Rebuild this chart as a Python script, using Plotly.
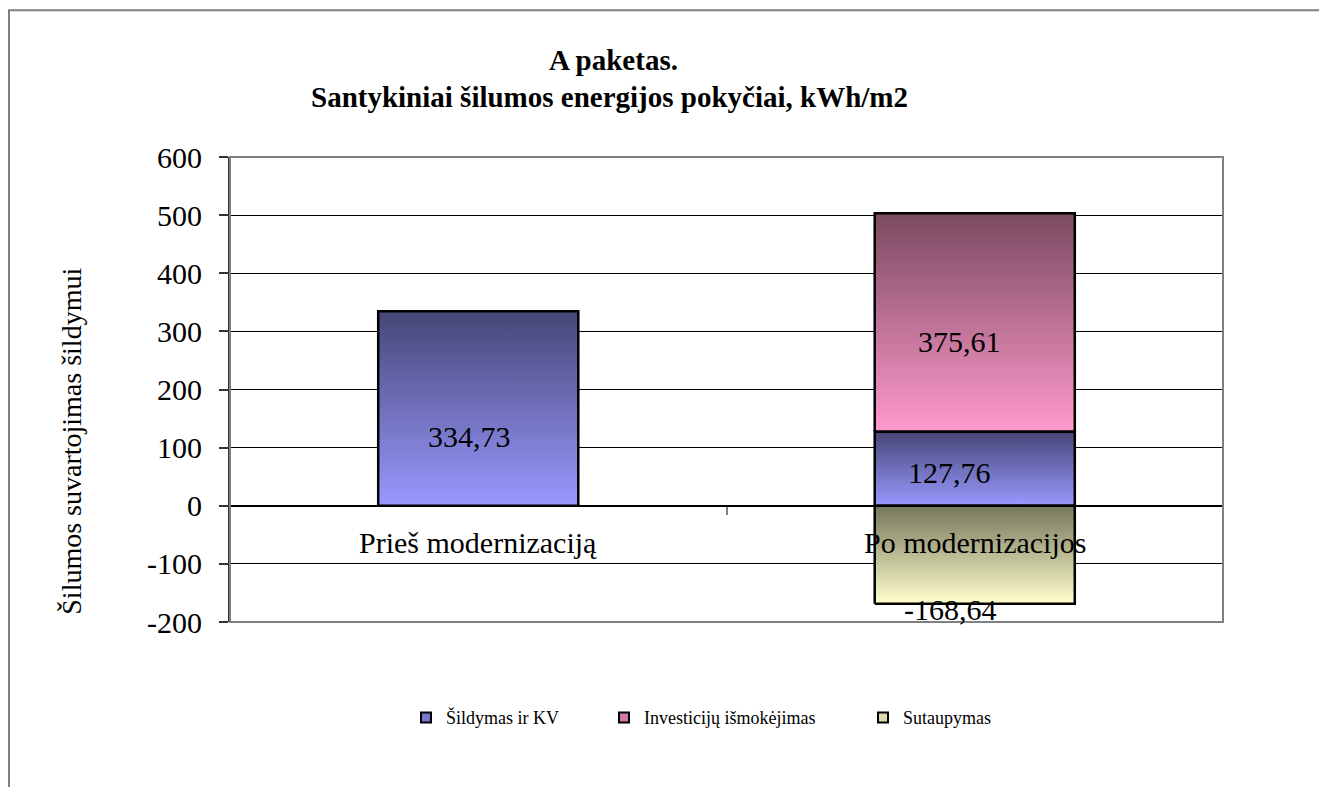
import plotly.graph_objects as go

# ---- data ----
categories = ["Prieš modernizaciją", "Po modernizacijos"]
series_names = ["Šildymas ir KV", "Investicijų išmokėjimas", "Sutaupymas"]
sildymas = [334.73, 127.76]
investicijos = [0.0, 375.61]
sutaupymas = [0.0, -168.64]
label_texts_sildymas = ["334,73", "127,76"]
label_texts_invest = ["", "375,61"]
label_texts_sutaup = ["", "-168,64"]
y_tick_values = [-200, -100, 0, 100, 200, 300, 400, 500, 600]
y_tick_labels = ["-200", "-100", "0", "100", "200", "300", "400", "500", "600"]

# ---- style ----
FONT = "Liberation Serif"
BAR_HALF = 0.2015
grad = {
    "Šildymas ir KV": ("#9999ff", "#464677"),
    "Investicijų išmokėjimas": ("#ff99cc", "#7a4a60"),
    "Sutaupymas": ("#ffffcc", "#76765c"),
}
legend_colors = {
    "Šildymas ir KV": "#7878d0",
    "Investicijų išmokėjimas": "#d277a6",
    "Sutaupymas": "#dcdcb0",
}
# label pixel nudges (xshift, yshift)
nudge_sild = [(-9, -28), (-25, -4)]
nudge_inv = [(0, 0), (-15, -19)]
nudge_sut = [(0, 0), (-24, -55)]

fig = go.Figure()


def rect(xc, y0, y1, name):
    xs = [xc - BAR_HALF, xc + BAR_HALF, xc + BAR_HALF, xc - BAR_HALF, xc - BAR_HALF]
    lo, hi = min(y0, y1), max(y0, y1)
    ys = [lo, lo, hi, hi, lo]
    light, dark = grad[name]
    fig.add_trace(go.Scatter(
        x=xs, y=ys, mode="lines", fill="toself",
        line=dict(color="black", width=2.5),
        fillgradient=dict(type="vertical", colorscale=[[0, light], [1, dark]]),
        showlegend=False, hoverinfo="skip", name=name,
    ))


annotations = []
for i, cat in enumerate(categories):
    if sildymas[i] != 0:
        rect(i, 0, sildymas[i], series_names[0])
        annotations.append(dict(x=i, y=sildymas[i] / 2, text=label_texts_sildymas[i],
                                xshift=nudge_sild[i][0], yshift=nudge_sild[i][1]))
    if investicijos[i] != 0:
        rect(i, sildymas[i], sildymas[i] + investicijos[i], series_names[1])
        annotations.append(dict(x=i, y=sildymas[i] + investicijos[i] / 2, text=label_texts_invest[i],
                                xshift=nudge_inv[i][0], yshift=nudge_inv[i][1]))
    if sutaupymas[i] != 0:
        rect(i, 0, sutaupymas[i], series_names[2])
        annotations.append(dict(x=i, y=sutaupymas[i] / 2, text=label_texts_sutaup[i],
                                xshift=nudge_sut[i][0], yshift=nudge_sut[i][1]))

for a in annotations:
    a.update(xref="x", yref="y", showarrow=False, font=dict(family=FONT, size=30, color="black"))

# category labels at the zero line
for i, cat in enumerate(categories):
    annotations.append(dict(x=i, y=0, xref="x", yref="y", text=cat, showarrow=False,
                            yshift=-37, font=dict(family=FONT, size=30, color="black")))

# legend-only traces, each in its own legend
legend_ids = ["legend", "legend2", "legend3"]
for name, lg in zip(series_names, legend_ids):
    fig.add_trace(go.Scatter(
        x=[None], y=[None], mode="markers", name=name, legend=lg,
        marker=dict(symbol="square", size=10, color=legend_colors[name],
                    line=dict(color="black", width=2)),
    ))

# titles
annotations += [
    dict(xref="paper", yref="paper", x=(613 - 230) / 993, y=(622.3 - 60) / 465,
         xanchor="center", yanchor="middle", text="<b>A paketas.</b>", showarrow=False,
         font=dict(family=FONT, size=29, color="black")),
    dict(xref="paper", yref="paper", x=(609 - 230) / 993, y=(622.3 - 97) / 465,
         xanchor="center", yanchor="middle",
         text="<b>Santykiniai šilumos energijos pokyčiai, kWh/m2</b>", showarrow=False,
         font=dict(family=FONT, size=29, color="black")),
    dict(xref="paper", yref="paper", x=(72 - 230) / 993, y=(622.3 - 442) / 465,
         xanchor="center", yanchor="middle", text="Šilumos suvartojimas šildymui",
         textangle=-90, showarrow=False, font=dict(family=FONT, size=28, color="black")),
]

shapes = [
    # plot area border
    dict(type="rect", xref="paper", yref="paper", x0=0, y0=0, x1=1, y1=1,
         line=dict(color="#808080", width=2), layer="above"),
    # outer chart border
    dict(type="rect", xref="paper", yref="paper",
         x0=(9 - 230) / 993, x1=(1322.5 - 230) / 993,
         y0=(622.3 - 830) / 465, y1=(622.3 - 10.5) / 465,
         line=dict(color="#7f7f7f", width=2), layer="below"),
]

leg_common = dict(orientation="h", yanchor="middle", xanchor="left", y=(622.3 - 718) / 465,
                  font=dict(family=FONT, size=18, color="black"), bgcolor="rgba(0,0,0,0)")

fig.update_layout(
    width=1319, height=779,
    margin=dict(l=222, r=104, t=149, b=165),
    paper_bgcolor="white", plot_bgcolor="white",
    font=dict(family=FONT, color="black"),
    showlegend=True,
    legend=dict(x=(406 - 230) / 993, **leg_common),
    legend2=dict(x=(604 - 230) / 993, **leg_common),
    legend3=dict(x=(863 - 230) / 993, **leg_common),
    annotations=annotations,
    shapes=shapes,
    xaxis=dict(range=[-0.5, 1.5], showgrid=False, zeroline=False, showline=False,
               tickvals=[0.5], ticks="outside", ticklen=8, tickwidth=2, tickcolor="#808080",
               showticklabels=False, anchor="free", position=0.25, fixedrange=True),
    yaxis=dict(range=[-200, 600], tickmode="array", tickvals=y_tick_values, ticktext=y_tick_labels,
               showgrid=True, gridcolor="#000000", gridwidth=1,
               zeroline=True, zerolinecolor="black", zerolinewidth=2,
               showline=True, linecolor="#333333", linewidth=2,
               ticks="outside", ticklen=9, tickcolor="#333333", tickwidth=1.5,
               ticklabelstandoff=11,
               tickfont=dict(family=FONT, size=30, color="black"), fixedrange=True),
)

fig.write_html("out.html")
